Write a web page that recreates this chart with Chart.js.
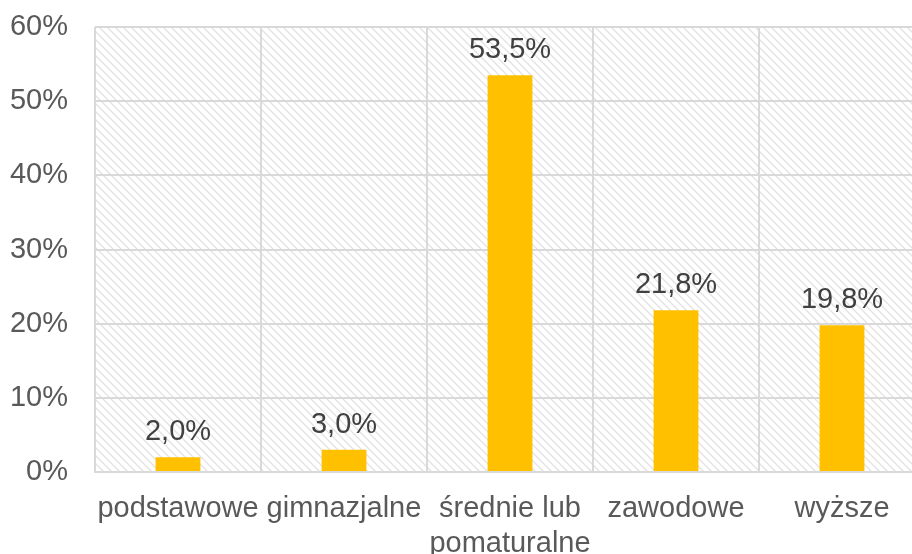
<!DOCTYPE html>
<html>
<head>
<meta charset="utf-8">
<script src="https://cdn.jsdelivr.net/npm/chart.js@4.4.1/dist/chart.umd.min.js"></script>
<style>
  html, body { margin: 0; padding: 0; background: #fff; overflow: hidden; }
  #wrap { width: 926px; height: 554px; }
</style>
</head>
<body>
<div id="wrap"><canvas id="chart"></canvas></div>
<script>
const categories = ['podstawowe', 'gimnazjalne', ['średnie lub', 'pomaturalne'], 'zawodowe', 'wyższe'];
const values = [2.0, 3.0, 53.5, 21.8, 19.8];
const yTicks = [0, 10, 20, 30, 40, 50, 60];

const FONT = '"Liberation Sans", Arial, sans-serif';

function makeHatch() {
    const c = document.createElement('canvas');
    c.width = 8; c.height = 8;
    const g = c.getContext('2d');
    g.strokeStyle = '#e2e2e2';
    g.lineWidth = 1.3;
    g.beginPath();
    g.moveTo(-2, -2); g.lineTo(10, 10);
    g.moveTo(-2, 6); g.lineTo(2, 10);
    g.moveTo(6, -2); g.lineTo(10, 2);
    g.stroke();
    return g.createPattern(c, 'repeat');
}

const hatchBg = {
    id: 'hatchBg',
    beforeDraw(chart) {
        const a = chart.chartArea;
        const ctx = chart.ctx;
        ctx.save();
        ctx.fillStyle = makeHatch();
        ctx.fillRect(a.left, a.top, a.right - a.left, a.bottom - a.top);
        ctx.restore();
    }
};

const barLabels = {
    id: 'barLabels',
    afterDatasetsDraw(chart) {
        const ctx = chart.ctx;
        ctx.save();
        ctx.font = '29px ' + FONT;
        ctx.fillStyle = '#404040';
        ctx.textAlign = 'center';
        ctx.textBaseline = 'alphabetic';
        chart.getDatasetMeta(0).data.forEach((bar, i) => {
            ctx.fillText(values[i].toFixed(1).replace('.', ',') + '%', bar.x, bar.y - 17);
        });
        ctx.restore();
    }
};

new Chart(document.getElementById('chart'), {
    type: 'bar',
    data: {
        labels: categories,
        datasets: [{
            data: values,
            backgroundColor: '#FFC000',
            barPercentage: 0.5,
            categoryPercentage: 0.54
        }]
    },
    options: {
        responsive: true,
        maintainAspectRatio: false,
        animation: false,
        layout: { autoPadding: false, padding: { top: 27, right: 1, left: 0, bottom: 0 } },
        plugins: { legend: { display: false }, tooltip: { enabled: false } },
        scales: {
            x: {
                grid: { color: '#d9d9d9', lineWidth: 2, drawTicks: false, offset: true },
                border: { color: '#d9d9d9', width: 2 },
                ticks: { color: '#595959', font: { family: FONT, size: 29, lineHeight: 1.2 }, padding: 20, maxRotation: 0, autoSkip: false },
                afterFit(s) { s.height = 82; s.paddingLeft = 0; s.paddingRight = 0; }
            },
            y: {
                min: 0, max: 60,
                afterBuildTicks(s) { s.ticks = yTicks.map(v => ({ value: v })); },
                grid: { color: '#d9d9d9', lineWidth: 2, drawTicks: false },
                border: { display: false },
                ticks: { color: '#595959', font: { family: FONT, size: 29 }, padding: 27, callback: v => v + '%' },
                afterFit(s) { s.width = 95; s.paddingTop = 0; s.paddingBottom = 0; }
            }
        }
    },
    plugins: [hatchBg, barLabels]
});
</script>
</body>
</html>
